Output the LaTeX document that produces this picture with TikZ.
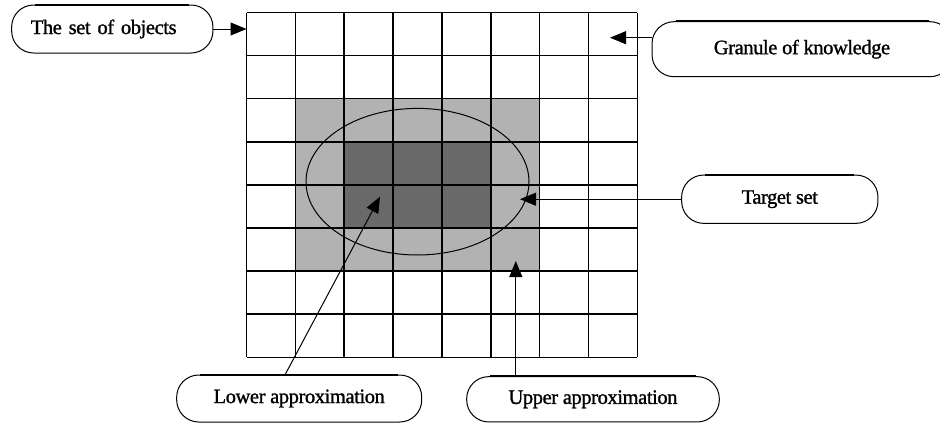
\documentclass[tikz,border=0pt]{standalone}
\usepackage{fontspec}
\setmainfont{Liberation Serif}
\newfontfamily\lblfont{Liberation Serif}[FakeBold=1.2, LetterSpace=-2.0]
\usetikzlibrary{arrows.meta}
\definecolor{lightg}{HTML}{B2B2B2}
\definecolor{darkg}{HTML}{696969}
\tikzset{
  lbl/.style={draw, line width=1pt, rounded corners=22pt, inner sep=0pt,
    font=\lblfont\fontsize{20.5}{24}\selectfont},
  arr/.style={line width=1pt, -{Triangle[length=16pt,width=13pt]}},
  gridline/.style={line width=1.5pt},
}
\begin{document}
\begin{tikzpicture}[x=1pt,y=-1pt]
\useasboundingbox (0,0) rectangle (940,423);
% shaded cells
\fill[lightg] (295.35,98.7) rectangle (539.6,271.1);
\fill[darkg] (344.2,141.8) rectangle (490.75,228);
% grid
\foreach \i in {0,...,8}{
  \draw[gridline] ({246.5+\i*48.85},12.5) -- ({246.5+\i*48.85},357.3);
  \draw[gridline] (246.5,{12.5+\i*43.1}) -- (637.3,{12.5+\i*43.1});
}
% target set ellipse
\draw[line width=1pt] (417.5,181.7) ellipse [x radius=111.5, y radius=73.3];
% labels
\node[lbl, minimum width=201.3pt, minimum height=48pt, text width=163pt, align=left, inner xsep=19pt] (objs) at (112.3,29) {The set of objects};
\node[lbl, minimum width=300pt, minimum height=55pt] (gran) at (802,49.2) {Granule of knowledge};
\node[lbl, minimum width=196.3pt, minimum height=48.3pt] (tgt) at (779.8,199.2) {Target set};
\node[lbl, minimum width=245pt, minimum height=47pt] (low) at (299.2,398.5) {Lower approximation};
\node[lbl, minimum width=252.6pt, minimum height=45.3pt] (up) at (593,399.3) {Upper approximation};
\foreach \n in {objs,gran,tgt,low,up}{
  \draw[line width=2pt] ([xshift=24pt]\n.north west) -- ([xshift=-24pt]\n.north east);
}
% arrow targets
\coordinate (gridW) at (246.5,29);
\coordinate (granTip) at (610,37.7);
\coordinate (tgtTip) at (520,199.2);
\coordinate (lowTip) at (380,196.7);
\coordinate (upTip) at (515.8,261);
% connectors
\draw[arr] (objs.east) -- (gridW);
\draw[arr] ([yshift=11.5pt]gran.west) -- (granTip);
\draw[arr] (tgt.west) -- (tgtTip);
\draw[arr] ([xshift=-14pt]low.north) -- (lowTip);
\draw[arr] ([xshift=-77.2pt]up.north) -- (upTip);
\end{tikzpicture}
\end{document}
